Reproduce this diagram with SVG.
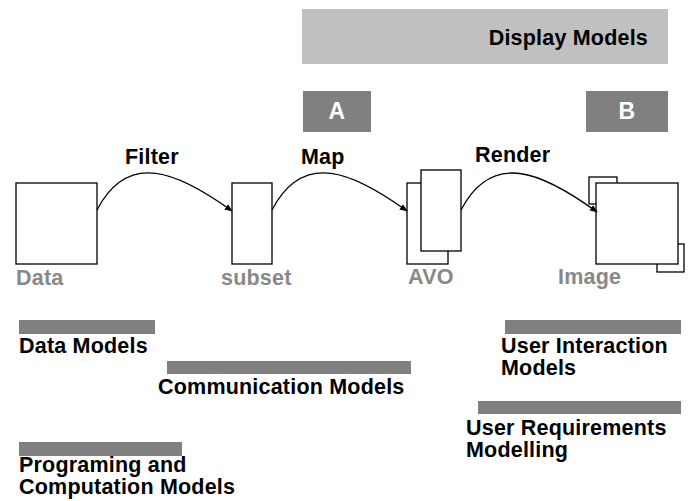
<svg xmlns="http://www.w3.org/2000/svg" width="693" height="501" viewBox="0 0 693 501">
  <style>
    text { font-family: "Liberation Sans", Arial, Helvetica, sans-serif; font-weight: bold; letter-spacing: 0.2px; }
    .lbl { font-size: 21.5px; fill: #000; }
    .stage { font-size: 21.5px; fill: #888888; }
    .key { font-size: 23px; fill: #ffffff; text-anchor: middle; }
    .box { fill: #ffffff; stroke: #000; stroke-width: 1.3; }
    .bar { fill: #808080; }
    .conn { fill: none; stroke: #000; stroke-width: 1.3; marker-end: url(#arrow); }
  </style>
  <defs>
    <marker id="arrow" viewBox="0 0 10 10" refX="9" refY="5" markerWidth="8" markerHeight="8" markerUnits="userSpaceOnUse" orient="auto">
      <path d="M0,1 L10,5 L0,9 Z" fill="#000"/>
    </marker>
  </defs>

  <!-- display model band with A / B markers -->
  <g id="display-models">
    <rect x="302" y="9" width="366" height="55" fill="#c0c0c0"/>
    <text class="lbl" x="648" y="45" text-anchor="end">Display Models</text>
  </g>
  <g id="marker-a">
    <rect x="303" y="91" width="68" height="41" fill="#808080"/>
    <text class="key" x="337" y="119">A</text>
  </g>
  <g id="marker-b">
    <rect x="586" y="91" width="82" height="41" fill="#808080"/>
    <text class="key" x="627" y="119">B</text>
  </g>

  <!-- pipeline stages -->
  <g id="data">
    <rect class="box" x="16" y="183" width="81" height="81"/>
    <text class="stage" x="16" y="285">Data</text>
  </g>
  <g id="subset">
    <rect class="box" x="232" y="183" width="40" height="81"/>
    <text class="stage" x="221" y="285">subset</text>
  </g>
  <g id="avo">
    <rect class="box" x="407" y="183" width="41" height="81"/>
    <rect class="box" x="421" y="170" width="40" height="81"/>
    <text class="stage" x="408" y="284">AVO</text>
  </g>
  <g id="image">
    <rect class="box" x="589" y="177" width="28" height="27"/>
    <rect class="box" x="657" y="244" width="27" height="28"/>
    <rect class="box" x="596" y="183" width="82" height="81"/>
    <text class="stage" x="558" y="284">Image</text>
  </g>

  <!-- transformations between stages -->
  <g id="connectors">
    <path class="conn" d="M97,210 C128,150 178,172 232,211"/>
    <path class="conn" d="M272,210 C303,150 353,172 407,211"/>
    <path class="conn" d="M461,210 C492,150 542,172 597,212"/>
  </g>
  <g id="transform-labels">
    <text class="lbl" x="125" y="164">Filter</text>
    <text class="lbl" x="301" y="164">Map</text>
    <text class="lbl" x="475" y="162">Render</text>
  </g>

  <!-- model categories -->
  <g id="data-models">
    <rect class="bar" x="19" y="320" width="136" height="14"/>
    <text class="lbl" x="19" y="353">Data Models</text>
  </g>
  <g id="communication-models">
    <rect class="bar" x="167" y="361" width="244" height="13"/>
    <text class="lbl" x="158" y="394">Communication Models</text>
  </g>
  <g id="programming-models">
    <rect class="bar" x="19" y="442" width="163" height="14"/>
    <text class="lbl" x="19" y="472">Programing and</text>
    <text class="lbl" x="19" y="494">Computation Models</text>
  </g>
  <g id="user-interaction-models">
    <rect class="bar" x="505" y="320" width="176" height="14"/>
    <text class="lbl" x="501" y="353">User Interaction</text>
    <text class="lbl" x="501" y="375">Models</text>
  </g>
  <g id="user-requirements">
    <rect class="bar" x="478" y="401" width="203" height="13"/>
    <text class="lbl" x="466" y="435">User Requirements</text>
    <text class="lbl" x="466" y="457">Modelling</text>
  </g>
</svg>
